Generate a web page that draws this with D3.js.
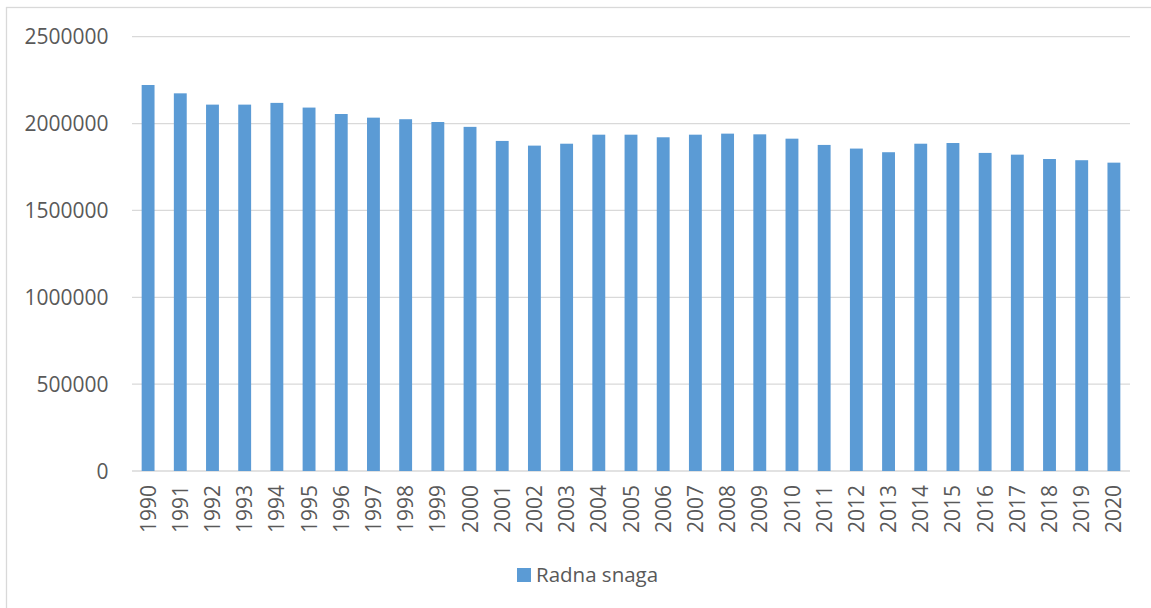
<!DOCTYPE html>
<html>
<head>
<meta charset="utf-8">
<script src="https://cdn.jsdelivr.net/npm/d3@7"></script>
<style>
  html, body { margin: 0; padding: 0; background: #fff; }
  svg { display: block; font-family: "Open Sans", sans-serif; }
</style>
</head>
<body>
<svg id="chart" width="1151" height="608"></svg>
<script>
const years = ['1990', '1991', '1992', '1993', '1994', '1995', '1996', '1997', '1998', '1999',
  '2000', '2001', '2002', '2003', '2004', '2005', '2006', '2007', '2008', '2009',
  '2010', '2011', '2012', '2013', '2014', '2015', '2016', '2017', '2018', '2019', '2020'];
const workforce = [2222000, 2174000, 2109000, 2109000, 2119000, 2092000, 2055000, 2034000, 2025000, 2009000,
  1981000, 1900000, 1873000, 1884000, 1936000, 1936000, 1921000, 1936000, 1942000, 1938000,
  1913000, 1877000, 1856000, 1835000, 1884000, 1888000, 1831000, 1821000, 1796000, 1789000, 1775000];
const yTicks = [0, 500000, 1000000, 1500000, 2000000, 2500000];
const seriesName = 'Radna snaga';

const svg = d3.select('#chart');
const plot = { left: 132, right: 1130, top: 36.7, bottom: 471 };

// outer chart frame (right/bottom edges fall outside the picture)
svg.append('rect')
  .attr('x', 6.5).attr('y', 7.5)
  .attr('width', 1300).attr('height', 800)
  .attr('fill', 'none').attr('stroke', '#d9d9d9').attr('stroke-width', 1.3);

const x = d3.scaleBand()
  .domain(years)
  .range([plot.left, plot.right])
  .paddingInner(0.6)
  .paddingOuter(0.3);

const y = d3.scaleLinear()
  .domain([0, 2500000])
  .range([plot.bottom, plot.top]);

// gridlines
svg.append('g')
  .selectAll('line')
  .data(yTicks)
  .enter()
  .append('line')
  .attr('x1', plot.left).attr('x2', plot.right)
  .attr('y1', d => y(d)).attr('y2', d => y(d))
  .attr('stroke', '#d9d9d9').attr('stroke-width', 1.3);

// y labels
svg.append('g')
  .selectAll('text')
  .data(yTicks)
  .enter()
  .append('text')
  .attr('x', 108.5)
  .attr('y', d => y(d))
  .attr('dy', '0.36em')
  .attr('text-anchor', 'end')
  .attr('font-size', 21)
  .attr('fill', '#595959')
  .text(d => d);

// bars
svg.append('g')
  .selectAll('rect')
  .data(workforce)
  .enter()
  .append('rect')
  .attr('x', (d, i) => x(years[i]))
  .attr('y', d => y(d))
  .attr('width', x.bandwidth())
  .attr('height', d => y(0) - y(d))
  .attr('fill', '#5b9bd5');

// x labels, rotated
svg.append('g')
  .selectAll('text')
  .data(years)
  .enter()
  .append('text')
  .attr('transform', d => `translate(${x(d) + x.bandwidth() / 2},${plot.bottom + 14}) rotate(-90)`)
  .attr('dy', '0.36em')
  .attr('text-anchor', 'end')
  .attr('font-size', 21)
  .attr('fill', '#595959')
  .text(d => d);

// legend
const legend = svg.append('g').attr('transform', 'translate(517,568)');
legend.append('rect')
  .attr('width', 14).attr('height', 14)
  .attr('fill', '#5b9bd5');
legend.append('text')
  .attr('x', 19).attr('y', 7)
  .attr('dy', '0.36em')
  .attr('font-size', 20.5)
  .attr('fill', '#595959')
  .text(seriesName);
</script>
</body>
</html>
